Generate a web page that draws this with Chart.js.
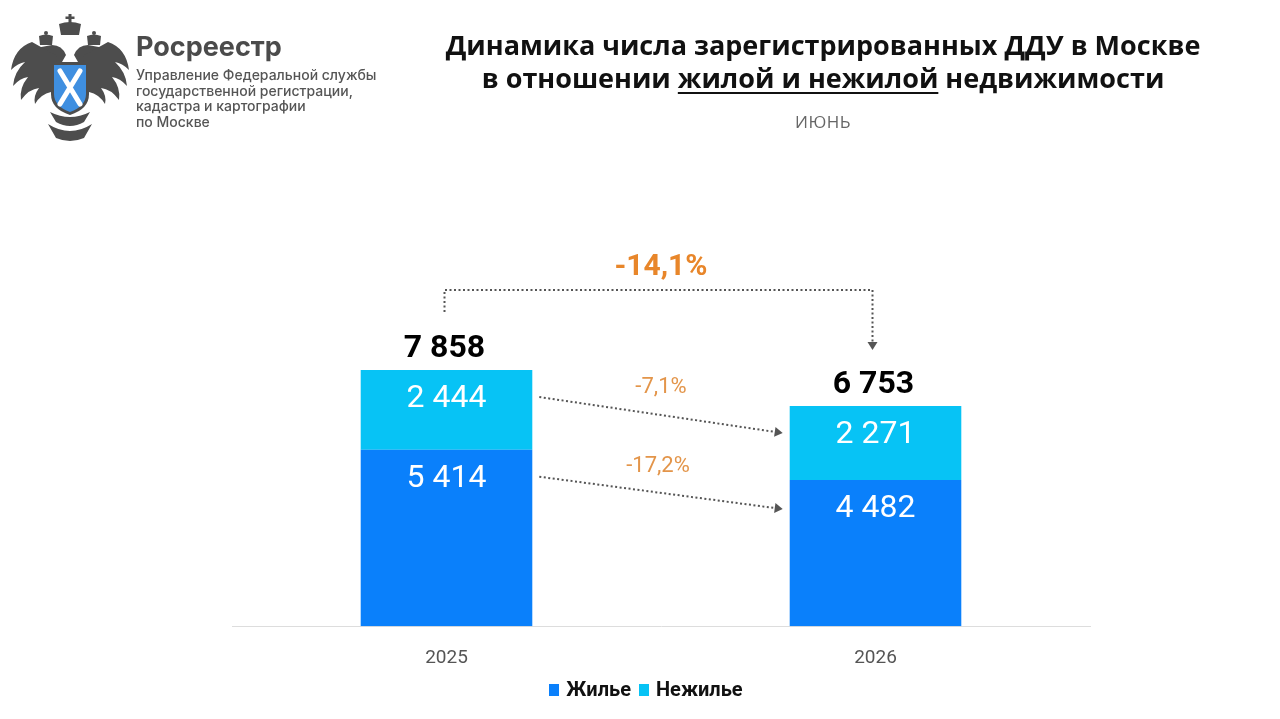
<!DOCTYPE html>
<html lang="ru">
<head>
<meta charset="utf-8">
<title>Динамика числа зарегистрированных ДДУ в Москве</title>
<script src="https://cdn.jsdelivr.net/npm/chart.js@4.4.1/dist/chart.umd.min.js"></script>
<style>
  html, body { margin: 0; padding: 0; background: #fff; }
  body { width: 1280px; height: 719px; position: relative; overflow: hidden; font-family: Roboto, sans-serif; }
  #chart-wrap { position: absolute; left: 0; top: 0; width: 1280px; height: 719px; }
  .logo { position: absolute; left: 10px; top: 14px; }
  .brand { position: absolute; left: 136px; top: 30px; font-family: Inter, sans-serif; color: #4b4b4b; }
  .brand .name { font-size: 27px; font-weight: 700; line-height: 34px; }
  .brand .sub { font-size: 14px; font-weight: 500; line-height: 15.7px; color: #555; margin-top: 3px; }
  .title { position: absolute; left: 423px; width: 800px; top: 28px; text-align: center;
           font-family: "Open Sans", sans-serif; font-weight: 700; font-size: 27px; line-height: 33px; color: #111; }
  .title u { text-decoration-thickness: 2px; text-underline-offset: 4px; }
  .month { position: absolute; left: 723px; width: 200px; top: 110px; text-align: center;
           font-family: "Open Sans", sans-serif; font-size: 17px; color: #666; letter-spacing: 0.5px; }
  .legend { position: absolute; left: 0; width: 1284px; top: 677px; text-align: center;
            font-family: Roboto, sans-serif; font-weight: 700; font-size: 20px; color: #111; }
  .legend span.box { display: inline-block; width: 10px; height: 12px; margin: 0 7px 0 8px; vertical-align: 0px; }
</style>
</head>
<body>
<div id="chart-wrap"><canvas id="ddu-chart"></canvas></div>

<svg class="logo" width="120" height="128" viewBox="0 0 120 128">
  <g fill="#4d4d4d">
    <rect x="58.5" y="0" width="3" height="9"/>
    <rect x="55.5" y="2.5" width="9" height="2.5"/>
    <path d="M49 10 q11 -4 22 0 l-2 11 h-18 z"/>
    <circle cx="36" cy="19" r="2"/>
    <circle cx="84" cy="19" r="2"/>
    <path d="M29 22 q7 -3 14 0 l-1 9 h-12 z"/>
    <path d="M77 22 q7 -3 14 0 l-1 9 h-12 z"/>
    <path d="M26 34 q-6 2 -8 10 l8 -3 q6 6 14 4 l8 10 l8 -14 q-4 -10 -14 -10 z"/>
    <path d="M94 34 q6 2 8 10 l-8 -3 q-6 6 -14 4 l-8 10 l-8 -14 q4 -10 14 -10 z"/>
    <path d="M22 28 q-18 6 -21 28 q7 -7 14 -8 q-11 10 -12 24 q7 -8 15 -9 q-9 11 -7 23 q8 -11 18 -12 q-6 8 -4 16 q6 -10 16 -12 l6 -36 z"/>
    <path d="M98 28 q18 6 21 28 q-7 -7 -14 -8 q11 10 12 24 q-7 -8 -15 -9 q9 11 7 23 q-8 -11 -18 -12 q6 8 4 16 q-6 -10 -16 -12 l-6 -36 z"/>
    <path d="M40 98 q20 10 40 0 l-6 10 q-14 8 -28 0 z"/>
    <path d="M38 110 q22 14 44 0 l-8 14 q-14 6 -28 0 z"/>
  </g>
  <path d="M41 48 h38 v32 q0 15 -19 21 q-19 -6 -19 -21 z" fill="#4d4d4d"/>
  <path d="M44 51 h32 v29 q0 12 -16 18 q-16 -6 -16 -18 z" fill="#3f8fe0"/>
  <path d="M50 57 l20 33 M70 57 l-20 33" stroke="#fff" stroke-width="5" stroke-linecap="round"/>
</svg>

<div class="brand">
  <div class="name">Росреестр</div>
  <div class="sub">Управление Федеральной службы<br>государственной регистрации,<br>кадастра и картографии<br>по Москве</div>
</div>

<div class="title">Динамика числа зарегистрированных ДДУ в Москве<br>в отношении <u>жилой и нежилой</u> недвижимости</div>
<div class="month">ИЮНЬ</div>

<div class="legend"><span class="box" style="background:#0a80fb"></span>Жилье<span class="box" style="background:#07c3f5"></span>Нежилье</div>

<script>
const ctx = document.getElementById("ddu-chart").getContext("2d");

// Data
let years = ["2025", "2026"];
let residential = [5414, 4482];
let nonResidential = [2444, 2271];
let seriesNames = ["Жилье", "Нежилье"];
let colorPalette = ["#0a80fb", "#07c3f5"];
let axisMax = 12000;

function fmt(n) {
  return String(n).replace(/\B(?=(\d{3})+(?!\d))/g, " ");
}
function pct(a, b) {
  return ((b / a - 1) * 100).toFixed(1).replace(".", ",") + "%";
}

function dottedArrow(c, x1, y1, x2, y2) {
  c.save();
  c.strokeStyle = "#555";
  c.fillStyle = "#555";
  c.lineWidth = 2;
  c.setLineDash([2, 2.5]);
  const ang = Math.atan2(y2 - y1, x2 - x1);
  const ex = x2 - Math.cos(ang) * 8, ey = y2 - Math.sin(ang) * 8;
  c.beginPath();
  c.moveTo(x1, y1);
  c.lineTo(ex, ey);
  c.stroke();
  c.setLineDash([]);
  c.beginPath();
  c.moveTo(x2, y2);
  c.lineTo(ex + Math.sin(ang) * 5, ey - Math.cos(ang) * 5);
  c.lineTo(ex - Math.sin(ang) * 5, ey + Math.cos(ang) * 5);
  c.closePath();
  c.fill();
  c.restore();
}

const labelsPlugin = {
  id: "barLabels",
  afterDatasetsDraw(chart) {
    const c = chart.ctx;
    const metaLow = chart.getDatasetMeta(0).data;
    const metaHigh = chart.getDatasetMeta(1).data;
    c.save();
    c.textAlign = "center";
    c.textBaseline = "middle";

    // values inside segments
    c.fillStyle = "#fff";
    c.font = "32px Roboto";
    [metaLow, metaHigh].forEach((els, di) => {
      const vals = di === 0 ? residential : nonResidential;
      els.forEach((el, i) => c.fillText(fmt(vals[i]), el.x, el.y + 29));
    });

    // totals
    c.fillStyle = "#000";
    c.font = "bold 32px Roboto";
    metaHigh.forEach((el, i) => c.fillText(fmt(residential[i] + nonResidential[i]), el.x - 2, el.y - 21));

    // segment change arrows
    const b0 = metaHigh[0], b1 = metaHigh[1];
    const left0 = b0.x + b0.width / 2 + 7;
    const right1 = b1.x - b1.width / 2 - 7;
    const midX = (left0 + right1) / 2;
    c.font = "22px Roboto";
    c.fillStyle = "#e3954a";
    dottedArrow(c, left0, b0.y + 27, right1, b1.y + 27);
    c.fillText(pct(nonResidential[0], nonResidential[1]), midX, b0.y + 17);
    const l0 = metaLow[0], l1 = metaLow[1];
    dottedArrow(c, left0, l0.y + 27, right1, l1.y + 29);
    c.fillStyle = "#e3954a";
    c.font = "22px Roboto";
    c.fillText(pct(residential[0], residential[1]), midX - 3, l0.y + 17);

    // total change bracket
    const t0 = residential[0] + nonResidential[0], t1 = residential[1] + nonResidential[1];
    const bracketY = b0.y - 80;
    c.strokeStyle = "#555";
    c.lineWidth = 2;
    c.setLineDash([2, 2.5]);
    c.beginPath();
    c.moveTo(b0.x - 2, b0.y - 58);
    c.lineTo(b0.x - 2, bracketY);
    c.lineTo(b1.x - 3, bracketY);
    c.stroke();
    dottedArrow(c, b1.x - 3, bracketY, b1.x - 3, b1.y - 56);
    c.fillStyle = "#e8862a";
    c.font = "bold 30px Roboto";
    c.fillText(pct(t0, t1), midX, bracketY - 23);
    c.restore();
  }
};

const data = {
  labels: years,
  datasets: [
    { label: seriesNames[0], data: residential, backgroundColor: colorPalette[0] },
    { label: seriesNames[1], data: nonResidential, backgroundColor: colorPalette[1] },
  ],
};

const options = {
  responsive: true,
  maintainAspectRatio: false,
  animation: false,
  layout: { padding: { left: 232, right: 190, top: 235, bottom: 28 } },
  datasets: { bar: { barPercentage: 0.8, categoryPercentage: 0.5, borderWidth: 0 } },
  scales: {
    x: {
      stacked: true,
      grid: { display: false, drawTicks: false },
      border: { display: true, color: "#dddddd", width: 1 },
      ticks: { color: "#555", font: { family: "Roboto", size: 19 }, padding: 21 },
    },
    y: {
      stacked: true,
      display: false,
      min: 0,
      max: axisMax,
    },
  },
  plugins: {
    legend: { display: false },
    tooltip: { enabled: true },
  },
};

new Chart(ctx, {
  type: "bar",
  data: data,
  options: options,
  plugins: [labelsPlugin],
});
</script>
</body>
</html>
